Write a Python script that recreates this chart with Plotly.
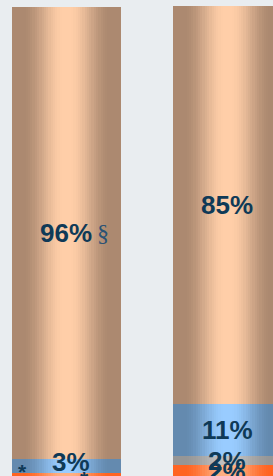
import plotly.graph_objects as go
import numpy as np

# ---- data ----
categories = ["Group 1", "Group 2"]
series_names = ["Orange", "Gray", "Blue", "Peach"]          # bottom -> top
orange_vals = [1.0, 2.6]
gray_vals = [0.0, 2.0]
blue_vals = [3.0, 11.0]
peach_vals = [96.0, 84.6]
orange_labels = ["", "2%"]
gray_labels = ["", "2%"]
blue_labels = ["3%", "11%"]
peach_labels = ["96%", "85%"]

# ---- styling ----
BG = "#e9edf0"
TEXT = "#0f3a57"
edge_colors = {"Orange": (255, 100, 34), "Gray": (150, 150, 150),
               "Blue": (100, 138, 175), "Peach": (172, 137, 112)}
center_colors = {"Orange": (255, 175, 130), "Gray": (192, 192, 192),
                 "Blue": (153, 204, 255), "Peach": (255, 206, 168)}
BAR_W = 0.677
N_SLICES = 48

series_vals = [orange_vals, gray_vals, blue_vals, peach_vals]
series_labels = [orange_labels, gray_labels, blue_labels, peach_labels]


def shade(name, t):
    d = abs(t - 0.5) * 2
    k = np.clip((d - 0.05) / 0.75, 0, 1)
    k = k * k * (3 - 2 * k)
    e, c = edge_colors[name], center_colors[name]
    rgb = [round(c[j] + (e[j] - c[j]) * k) for j in range(3)]
    return f"rgb({rgb[0]},{rgb[1]},{rgb[2]})"


fig = go.Figure()
bases = np.zeros(len(categories))
step = BAR_W / N_SLICES
for name, vals in zip(series_names, series_vals):
    vals = np.array(vals, dtype=float)
    for i in range(N_SLICES):
        off = -BAR_W / 2 + i * step
        w = min(step * 1.6, BAR_W / 2 - off)
        fig.add_trace(go.Bar(
            x=categories, y=vals, base=bases.copy(),
            offset=off, width=w,
            marker=dict(color=shade(name, (i + 0.5) / N_SLICES), line=dict(width=0)),
            hoverinfo="skip", showlegend=False,
        ))
    bases = bases + vals

# ---- labels ----
annotations = []
bases = np.zeros(len(categories))
for name, vals, labels in zip(series_names, series_vals, series_labels):
    for ci, cat in enumerate(categories):
        mid = bases[ci] + vals[ci] / 2
        if labels[ci]:
            small_first = (name == "Blue" and ci == 0)
            annotations.append(dict(
                x=cat, y=mid, text=f"<b>{labels[ci]}</b>", showarrow=False,
                xshift=5 if small_first else 0,
                yshift=4 if small_first else 0,
                font=dict(family="Arial, Liberation Sans, sans-serif", size=26, color=TEXT),
                xanchor="center", yanchor="middle"))
    bases = bases + np.array(vals)

# extra markers on bar 1
peach_mid = orange_vals[0] + gray_vals[0] + blue_vals[0] + peach_vals[0] / 2
blue_mid = orange_vals[0] + gray_vals[0] + blue_vals[0] / 2
annotations.append(dict(x=categories[0], y=peach_mid, text="§", showarrow=False,
                        xshift=37, yshift=0,
                        font=dict(family="Liberation Serif, serif", size=24, color="#2a5275")))
annotations.append(dict(x=categories[0], y=blue_mid, text="<b>*</b>", showarrow=False,
                        xshift=-44, yshift=-6,
                        font=dict(family="Arial, Liberation Sans, sans-serif", size=21, color=TEXT)))
annotations.append(dict(x=categories[0], y=blue_mid, text="<b>*</b>", showarrow=False,
                        xshift=18, yshift=-13,
                        font=dict(family="Arial, Liberation Sans, sans-serif", size=21, color=TEXT)))

fig.update_layout(
    width=273, height=476,
    margin=dict(l=0, r=0, t=0, b=0),
    paper_bgcolor=BG, plot_bgcolor=BG,
    barmode="overlay", bargap=0,
    showlegend=False,
    annotations=annotations,
    xaxis=dict(type="category", range=[-0.413, 1.283], visible=False, fixedrange=True),
    yaxis=dict(range=[0.36, 101.47], visible=False, fixedrange=True),
)

fig.write_html("out.html", config={"displayModeBar": False},
               post_script="document.body.style.margin='0px';document.body.style.overflow='hidden';")
